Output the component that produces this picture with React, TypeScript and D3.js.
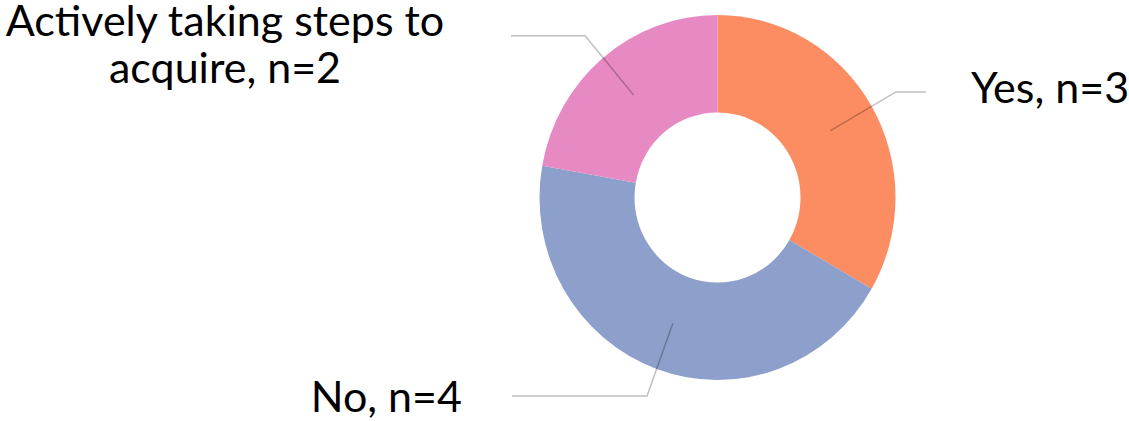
import * as d3 from 'd3';

const categories = ['Yes', 'No', 'Actively taking steps to acquire'];
const values = [3, 4, 2];
const labelLines = [['Yes, n=3'], ['No, n=4'], ['Actively taking steps to', 'acquire, n=2']];
const sliceColors = ['#FC8D62', '#8DA0CB', '#E78AC3'];

// layout for label placement (not data)
const labelLayout = [
  { x: 971, y: 103, anchor: 'start', lineEnd: 926 },
  { x: 462, y: 412, anchor: 'end', lineEnd: 512 },
  { x: 225, y: 36, anchor: 'middle', lineEnd: 511 },
];

const width = 1129;
const height = 421;
const cx = 717.5;
const cy = 197.5;
const sy = 1.025;
const outerR = 178;
const innerR = 83;
const elbowR = 206;

export default function App() {
  const pie = d3
    .pie<number>()
    .sort(null)
    .value(d => d);
  const arcs = pie(values);
  const arc = d3.arc<d3.PieArcDatum<number>>().innerRadius(innerR).outerRadius(outerR);
  const elbowArc = d3
    .arc<d3.PieArcDatum<number>>()
    .innerRadius(elbowR)
    .outerRadius(elbowR);

  return (
    <svg
      width={width}
      height={height}
      style={{ position: 'absolute', left: 0, top: 0, background: '#fff' }}
    >
      <g transform={`translate(${cx},${cy}) scale(1,${sy})`}>
        {arcs.map((a, i) => (
          <path key={categories[i]} d={arc(a) || ''} fill={sliceColors[i]} />
        ))}
      </g>
      {arcs.map((a, i) => {
        const [x0, y0] = arc.centroid(a);
        const [x1, y1] = elbowArc.centroid(a);
        const lay = labelLayout[i];
        const pts: [number, number][] = [
          [cx + x0, cy + y0 * sy],
          [cx + x1, cy + y1 * sy],
          [lay.lineEnd, cy + y1 * sy],
        ];
        return (
          <path
            key={'l' + i}
            d={d3.line()(pts) || ''}
            fill="none"
            stroke="#000"
            strokeOpacity={0.25}
            strokeWidth={1.5}
          />
        );
      })}
      {labelLines.map((lines, i) => {
        const lay = labelLayout[i];
        return (
          <text
            key={'t' + i}
            x={lay.x}
            y={lay.y}
            textAnchor={lay.anchor as any}
            fontFamily="Lato, 'Open Sans', sans-serif"
            fontSize={43}
            fill="#000"
          >
            {lines.map((ln, j) => (
              <tspan key={j} x={lay.x} dy={j === 0 ? 0 : 47}>
                {ln}
              </tspan>
            ))}
          </text>
        );
      })}
    </svg>
  );
}
